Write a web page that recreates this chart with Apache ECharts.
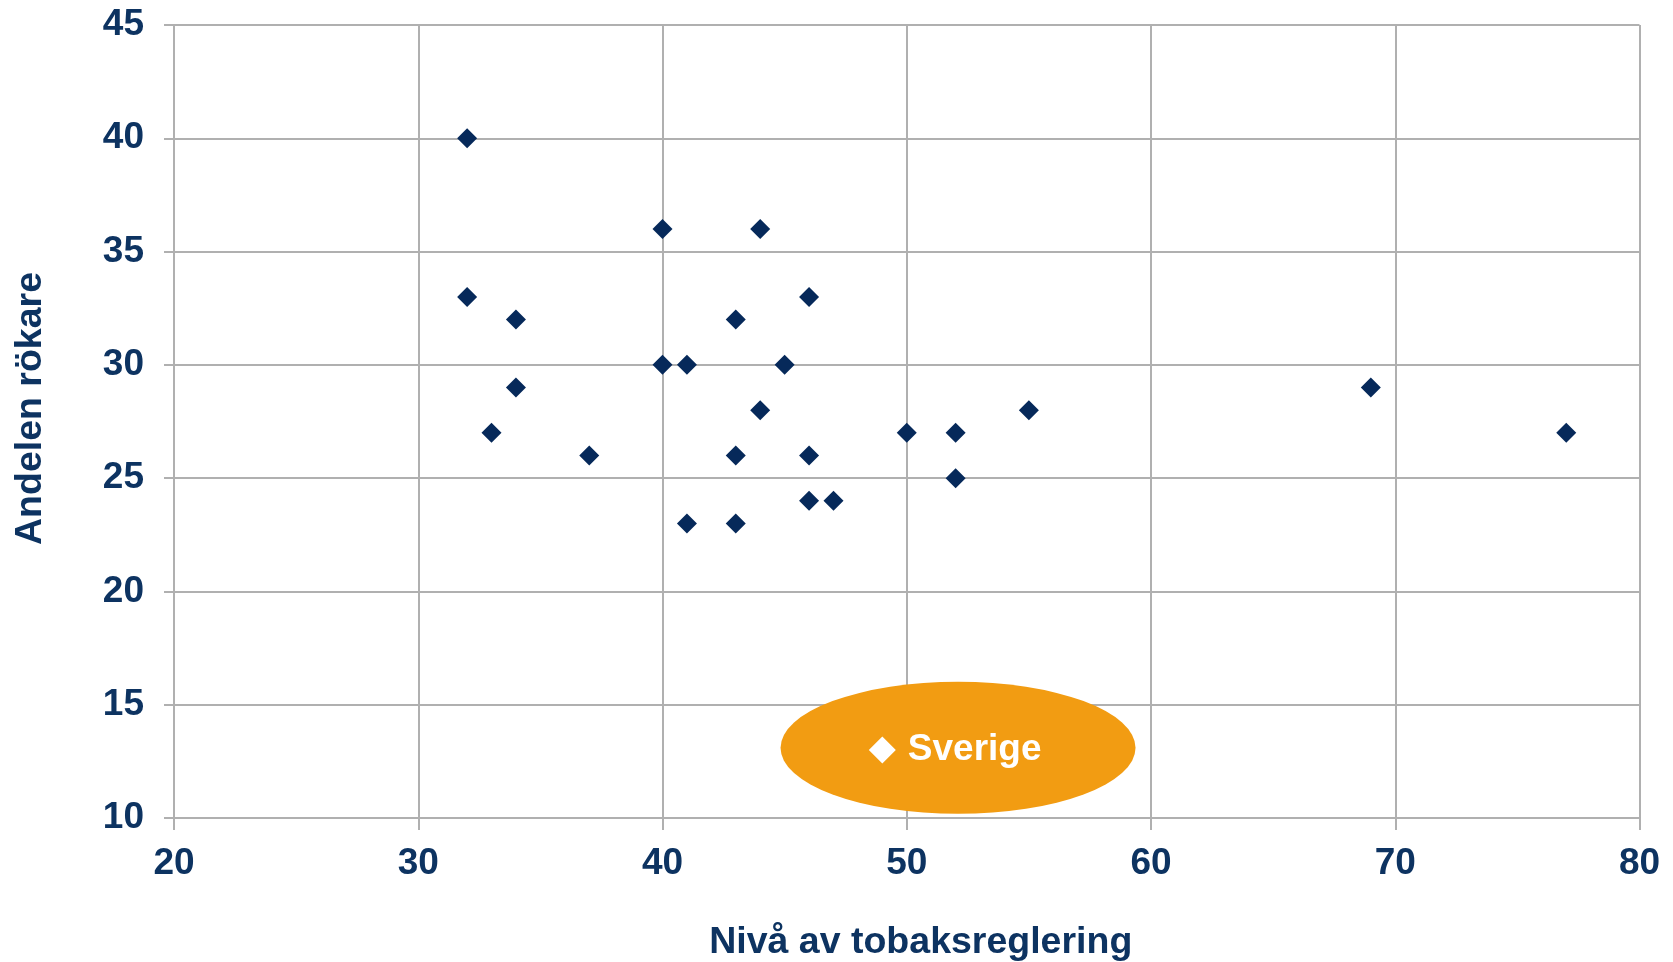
<!DOCTYPE html>
<html>
<head>
<meta charset="utf-8">
<script src="https://cdn.jsdelivr.net/npm/echarts@6/dist/echarts.min.js"></script>
<style>
html,body{margin:0;padding:0;background:#fff;}
#chart{width:1673px;height:962px;}
</style>
</head>
<body>
<div id="chart"></div>
<script>
// Data: x = Nivå av tobaksreglering, y = Andelen rökare
const regleringsniva = [32, 32, 34, 34, 33, 37, 40, 44, 40, 41, 43, 46, 45, 44, 43, 46, 46, 47, 41, 43, 50, 52, 52, 55, 69, 77];
const andelRokare    = [40, 33, 32, 29, 27, 26, 36, 36, 30, 30, 32, 33, 30, 28, 26, 26, 24, 24, 23, 23, 27, 27, 25, 28, 29, 27];
const sverigeX = [49];
const sverigeY = [13];
const sverigeNamn = 'Sverige';
// centre of the orange highlight behind the Sweden label (data coordinates)
const highlightCentre = [[52.1, 13.1]];
const xTicks = [20, 30, 40, 50, 60, 70, 80];
const yTicks = [10, 15, 20, 25, 30, 35, 40, 45];

const navy = '#06295a';
const textCol = '#0d3361';
const gridCol = '#b0b0b0';
const font = "'Liberation Sans', Arial, sans-serif";

const chart = echarts.init(document.getElementById('chart'), null, {renderer: 'canvas'});
chart.setOption({
  animation: false,
  backgroundColor: '#ffffff',
  grid: {left: 174, right: 33.5, top: 25, bottom: 144, containLabel: false, outerBoundsMode: 'none'},
  xAxis: {
    type: 'value',
    min: xTicks[0], max: xTicks[xTicks.length - 1], interval: xTicks[1] - xTicks[0],
    name: 'Nivå av tobaksreglering',
    nameLocation: 'middle',
    nameGap: 106,
    nameTextStyle: {color: textCol, fontFamily: font, fontWeight: 'bold', fontSize: 37.5, padding: [0, 0, 0, 28]},
    axisLine: {show: true, lineStyle: {color: gridCol, width: 2}},
    axisTick: {show: true, length: 12, lineStyle: {color: gridCol, width: 2}},
    axisLabel: {color: textCol, fontFamily: font, fontWeight: 'bold', fontSize: 37, margin: 27},
    splitLine: {show: true, lineStyle: {color: gridCol, width: 2}}
  },
  yAxis: {
    type: 'value',
    min: yTicks[0], max: yTicks[yTicks.length - 1], interval: yTicks[1] - yTicks[0],
    name: 'Andelen rökare',
    nameLocation: 'middle',
    nameGap: 124,
    nameTextStyle: {color: textCol, fontFamily: font, fontWeight: 'bold', fontSize: 37.5, padding: [0, 0, 0, 26]},
    axisLine: {show: true, lineStyle: {color: gridCol, width: 2}},
    axisTick: {show: true, length: 10, lineStyle: {color: gridCol, width: 2}},
    axisLabel: {color: textCol, fontFamily: font, fontWeight: 'bold', fontSize: 37, margin: 30},
    splitLine: {show: true, lineStyle: {color: gridCol, width: 2}}
  },
  series: [
    {
      name: 'Länder',
      type: 'scatter',
      symbol: 'diamond',
      symbolSize: 20,
      itemStyle: {color: navy, opacity: 1},
      data: regleringsniva.map((x, i) => [x, andelRokare[i]]),
      z: 3
    },
    {
      name: 'highlight',
      type: 'scatter',
      symbol: 'circle',
      symbolSize: [355, 132],
      itemStyle: {color: '#f29c12', opacity: 1},
      data: highlightCentre,
      silent: true,
      z: 4
    },
    {
      name: sverigeNamn,
      type: 'scatter',
      symbol: 'diamond',
      symbolSize: 27,
      itemStyle: {color: '#ffffff', opacity: 1},
      data: sverigeX.map((x, i) => [x, sverigeY[i]]),
      label: {
        show: true,
        position: 'right',
        distance: 12,
        formatter: sverigeNamn,
        color: '#ffffff',
        fontFamily: font,
        fontWeight: 'bold',
        fontSize: 37
      },
      z: 5
    }
  ]
});
</script>
</body>
</html>
